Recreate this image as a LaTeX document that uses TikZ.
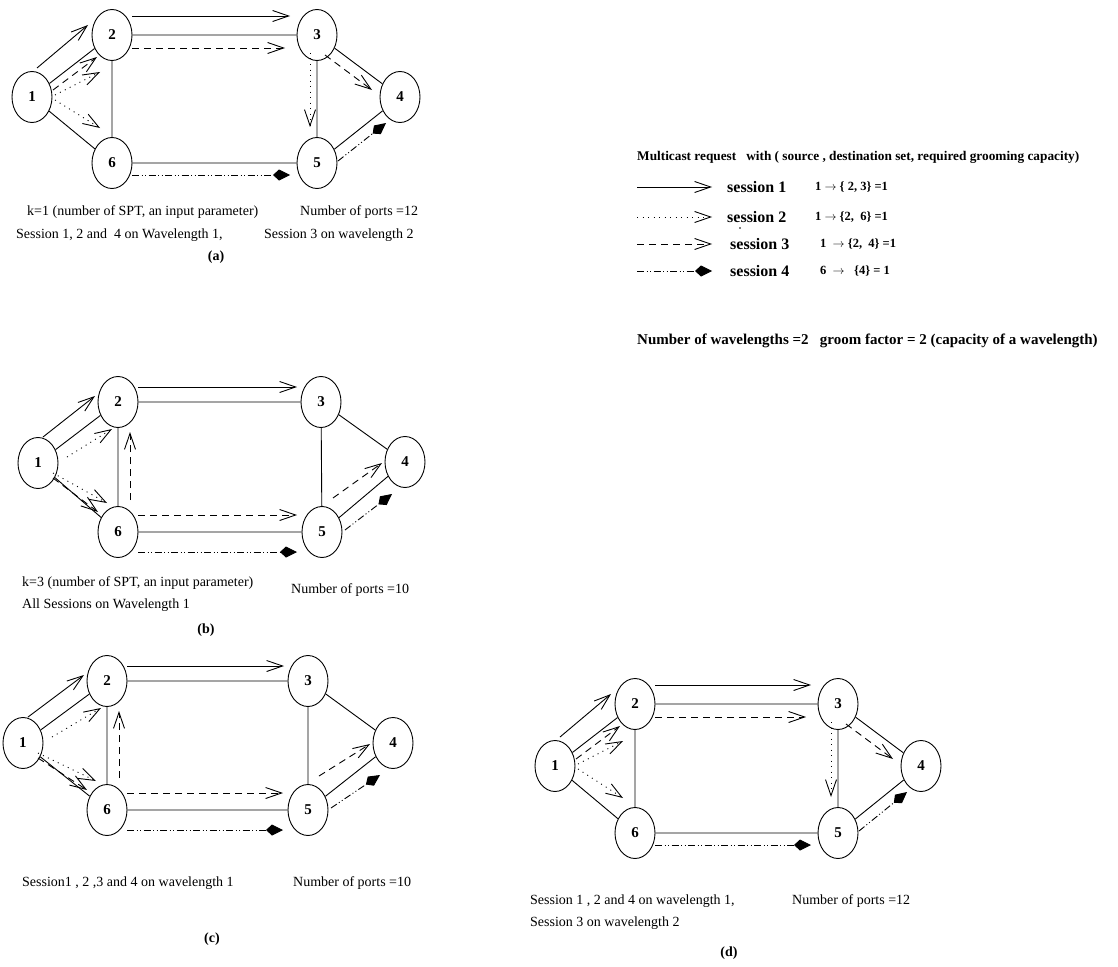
\documentclass[tikz,border=0pt]{standalone}
\usepackage{fontspec}
\setmainfont{Liberation Serif}
\usetikzlibrary{arrows.meta,shapes.geometric,calc}
\tikzset{
  nd/.style={ellipse, draw, line width=0.9pt, minimum width=40pt, minimum height=51pt, inner sep=0pt,
    font=\fontsize{15}{15}\selectfont\bfseries},
  base/.style={line width=0.9pt},
  s1/.style={line width=0.9pt,-{Straight Barb[length=16pt,width=11pt]}},
  s2/.style={line width=0.9pt,dash pattern=on 1pt off 4.5pt,-{Straight Barb[length=16pt,width=11pt]}},
  s3/.style={line width=0.9pt,dash pattern=on 7pt off 5pt,-{Straight Barb[length=16pt,width=11pt]}},
  s4/.style={line width=0.9pt,dash pattern=on 7pt off 2.5pt on 1pt off 2.5pt on 1pt off 2.5pt,
    -{Kite[length=17pt,width=11pt,inset=6pt]}},
  txt/.style={anchor=west, inner sep=0pt, font=\fontsize{14}{16}\selectfont},
  pcap/.style={inner sep=0pt, font=\fontsize{14}{16}\selectfont\bfseries},
  hdr/.style={anchor=west, inner sep=0pt, font=\fontsize{13.3}{15}\selectfont\bfseries},
  leg/.style={anchor=west, inner sep=0pt, font=\fontsize{16}{18}\selectfont\bfseries},
  legf/.style={anchor=west, inner sep=0pt, font=\fontsize{12.5}{14}\selectfont\bfseries},
  big/.style={anchor=west, inner sep=0pt, font=\fontsize{15}{17}\selectfont\bfseries},
}
\newcommand\basenet[1]{%
  \draw[base] (#11)--(#12) (#11)--(#16) (#12)--(#16) (#12)--(#13)
              (#13)--(#14) (#13)--(#15) (#14)--(#15) (#16)--(#15);}
\newcommand\edgesAD[1]{%
  \draw[s1] ($(#11)+(5,-29)$) -- ($(#12)+(-24,-10)$);
  \draw[s3] ($(#11)+(21,-7)$) -- ($(#12)+(-15,22)$);
  \draw[s2] ($(#11)+(23,-2)$) -- ($(#12)+(-12,37)$);
  \draw[s2] ($(#11)+(23,3)$) -- ($(#16)+(-12,-35)$);
  \draw[s1] ($(#12)+(20,-19)$) -- ($(#13)+(-27,-19)$);
  \draw[s3] ($(#12)+(20,13)$) -- ($(#13)+(-32,13)$);
  \draw[s3] ($(#13)+(8,20)$) -- ($(#14)+(-28,-7)$);
  \draw[s2] ($(#13)+(-7,18)$) -- ($(#15)+(-7,-36)$);
  \draw[s4] ($(#15)+(21,-2)$) -- ($(#14)+(-14,26)$);
  \draw[s4] ($(#16)+(20,12)$) -- ($(#15)+(-27,12)$);
}
\newcommand\edgesBC[1]{%
  \draw[s1] ($(#11)+(5,-26)$) -- ($(#12)+(-23,-6)$);
  \draw[s2] ($(#11)+(29,-6)$) -- ($(#12)+(-6,27)$);
  \draw[s2] ($(#11)+(15,10)$) -- ($(#16)+(-11,-29)$);
  \draw[s3] ($(#11)+(15,15)$) -- ($(#16)+(-20,-20)$);
  \draw[s1] ($(#12)+(20,-15)$) -- ($(#13)+(-24,-15)$);
  \draw[s3] ($(#16)+(12,-32)$) -- ($(#12)+(12,30)$);
  \draw[s3] ($(#15)+(11,-34)$) -- ($(#14)+(-23,1)$);
  \draw[s4] ($(#15)+(23,-2)$) -- ($(#14)+(-13,32)$);
  \draw[s3] ($(#16)+(20,-17)$) -- ($(#15)+(-25,-17)$);
  \draw[s4] ($(#16)+(20,20)$) -- ($(#15)+(-25,20)$);
}
\begin{document}
\begin{tikzpicture}[x=1pt,y=-1pt]
\useasboundingbox (0,0) rectangle (1118,966);
% ---------- panel (a)
\node[nd] (a1) at (32,97) {1};
\node[nd] (a2) at (112,35) {2};
\node[nd] (a3) at (317,35) {3};
\node[nd] (a4) at (400,97) {4};
\node[nd] (a5) at (317,163) {5};
\node[nd] (a6) at (112,163) {6};
\basenet{a}\edgesAD{a}
\node[txt] (ta1) at (27,212) {k=1 (number of SPT, an input parameter)};
\node[txt] (ta2) at (300,212) {Number of ports =12};
\node[txt] (ta3) at (16,235) {Session 1, 2 and \ 4 on Wavelength 1,};
\node[txt] (ta4) at (264,235) {Session 3 on wavelength 2};
\node[pcap] (ca) at (216,257) {(a)};
% ---------- panel (b)
\node[nd] (b1) at (38,463) {1};
\node[nd] (b2) at (118,402) {2};
\node[nd] (b3) at (321,402) {3};
\node[nd] (b4) at (405,462) {4};
\node[nd] (b5) at (322,532) {5};
\node[nd] (b6) at (118,532) {6};
\basenet{b}\edgesBC{b}
\node[txt] (tb1) at (22,583) {k=3 (number of SPT, an input parameter)};
\node[txt] (tb2) at (291,590) {Number of ports =10};
\node[txt] (tb3) at (22,605) {All Sessions on Wavelength 1};
\node[pcap] (cb) at (206,630) {(b)};
% ---------- panel (c)
\node[nd] (c1) at (23,743) {1};
\node[nd] (c2) at (107,681) {2};
\node[nd] (c3) at (308,681) {3};
\node[nd] (c4) at (393,743) {4};
\node[nd] (c5) at (308,810) {5};
\node[nd] (c6) at (107,810) {6};
\basenet{c}\edgesBC{c}
\node[txt] (tc1) at (22,883) {Session1 , 2 ,3 and 4 on wavelength 1};
\node[txt] (tc2) at (293,883) {Number of ports =10};
\node[pcap] (cc) at (212,939) {(c)};
% ---------- panel (d)
\node[nd] (d1) at (555,766) {1};
\node[nd] (d2) at (635,704) {2};
\node[nd] (d3) at (838,704) {3};
\node[nd] (d4) at (921,766) {4};
\node[nd] (d5) at (838,833) {5};
\node[nd] (d6) at (635,833) {6};
\basenet{d}\edgesAD{d}
\node[txt] (td1) at (530,901) {Session 1 , 2 and 4 on wavelength 1,};
\node[txt] (td2) at (792,901) {Number of ports =12};
\node[txt] (td3) at (530,923) {Session 3 on wavelength 2};
\node[pcap] (cd) at (729,953) {(d)};
% ---------- legend
\node[hdr] (hd) at (637,157) {Multicast request \ \ with ( source , destination set, required grooming capacity)};
\coordinate (l1a) at (637,187); \coordinate (l1b) at (712,187);
\coordinate (l2a) at (637,217); \coordinate (l2b) at (712,217);
\coordinate (l3a) at (637,244); \coordinate (l3b) at (712,244);
\coordinate (l4a) at (637,271); \coordinate (l4b) at (712,271);
\draw[s1] (l1a) -- (l1b);
\draw[s2] (l2a) -- (l2b);
\draw[s3] (l3a) -- (l3b);
\draw[s4] (l4a) -- (l4b);
\node[leg] (ls1) at (727,187) {session 1};
\node[leg] (ls2) at (727,217) {session 2};
\node[leg] (ls3) at (730,244) {session 3};
\node[leg] (ls4) at (730,271) {session 4};
\node[legf] (lf1) at (815,187) {1 $\rightarrow$ \{ 2, 3\} =1};
\node[legf] (lf2) at (815,217) {1 $\rightarrow$ \{2, \ 6\} =1};
\node[legf] (lf3) at (820,244) {1 \ $\rightarrow$ \{2, \ 4\} =1};
\node[legf] (lf4) at (820,271) {6 \ $\rightarrow$ \ \ \{4\} = 1};
\fill (l2a) ++(103,11) circle (0.8pt) coordinate (dot);
\node[big] (nw) at (637,341) {Number of wavelengths =2 \ \ groom factor = 2 (capacity of a wavelength)};
\end{tikzpicture}
\end{document}
